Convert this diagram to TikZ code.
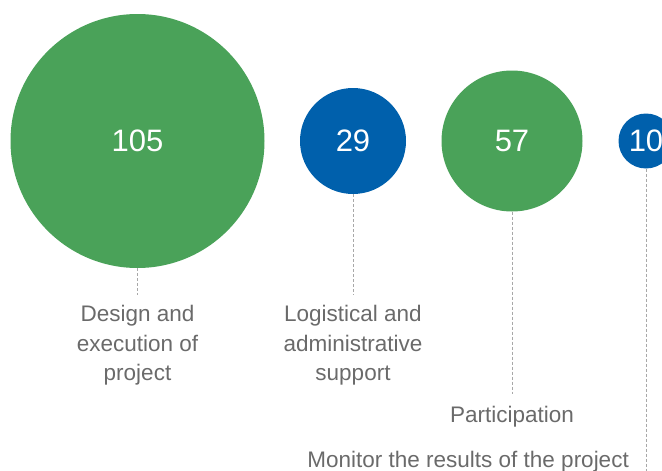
\documentclass[tikz,border=0pt]{standalone}
\usepackage{fontspec}
\setmainfont{Liberation Sans}
\usetikzlibrary{positioning}

\definecolor{bubG}{HTML}{4AA259}
\definecolor{bubB}{HTML}{0060AC}
\definecolor{txtG}{HTML}{6A6A6A}
\definecolor{dashG}{HTML}{A8A8A8}

\tikzstyle{bubble} = [circle, inner sep=0pt, text=white, font=\fontsize{31}{31}\selectfont]
\tikzstyle{lbl} = [align=center, inner sep=0pt, text=txtG, font=\fontsize{22.5}{29.5}\selectfont]
\tikzstyle{leader} = [dashG, line width=1pt, dash pattern=on 3pt off 2pt]

\begin{document}
\begin{tikzpicture} [x=1pt, y=1pt, node distance=2cm]

\useasboundingbox (0,0) rectangle (662,-471);
\clip (0,0) rectangle (662,-471);

\node[bubble,minimum size=254pt,
      fill=bubG]
      (c105) at (137.5,-141) {105};

\node[bubble,minimum size=106pt,
      right of=c105,node distance=215.5pt,
      fill=bubB]
      (c29) {29};

\node[bubble,minimum size=141pt,
      right of=c29,node distance=159pt,
      fill=bubG]
      (c57) {57};

\node[bubble,minimum size=55pt,
      right of=c57,node distance=134pt,
      fill=bubB]
      (c10) {10};

\node[lbl,below of=c105,
      anchor=north,node distance=164pt]
      (l105) {Design and\\execution of\\project};

\node[lbl,below of=c29,
      anchor=north,node distance=164pt]
      (l29) {Logistical and\\administrative\\support};

\node[lbl,below of=c57,
      anchor=north,node distance=265pt]
      (l57) {Participation};

\node[lbl,below of=c10,
      anchor=north east,node distance=310pt,xshift=-17pt]
      (l10) {Monitor the results of the project};

\coordinate[below of=c10,node distance=330pt] (end10);

\draw[leader,shorten >=10pt]
     (c105.south) -- (c105.south |- l105.north);

\draw[leader,shorten >=10pt]
     (c29.south) -- (c29.south |- l29.north);

\draw[leader,shorten >=12pt]
     (c57.south) -- (c57.south |- l57.north);

\draw[leader]
     (c10.south) -- (end10);

\end{tikzpicture}
\end{document}
